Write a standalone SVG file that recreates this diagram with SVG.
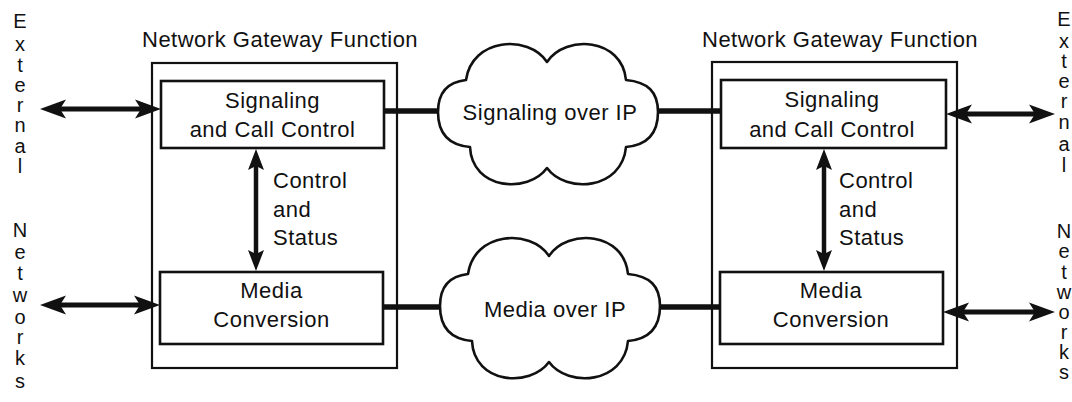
<svg xmlns="http://www.w3.org/2000/svg" width="1072" height="402" viewBox="0 0 1072 402">
  <style>
    text { font-family: "Liberation Sans", Arial, sans-serif; font-size: 22px; fill: #111; letter-spacing: 0.5px; }
    .mid { text-anchor: middle; }
    .vert { font-size: 20px; letter-spacing: 0; text-anchor: middle; }
    .outer { fill: none; stroke: #111; stroke-width: 2.2; }
    .inner { fill: #fff; stroke: #111; stroke-width: 2.6; }
    .cloud { fill: #fff; stroke: #111; stroke-width: 2.6; stroke-linejoin: round; }
    .link { stroke: #111; stroke-width: 5.5; fill: none; }
    .ext { stroke: #111; stroke-width: 5; fill: none; marker-start: url(#bigHead); marker-end: url(#bigHead); }
    .cs { stroke: #111; stroke-width: 4.5; fill: none; marker-start: url(#smallHead); marker-end: url(#smallHead); }
  </style>
  <defs>
    <marker id="bigHead" markerUnits="userSpaceOnUse" viewBox="-15 -11 30 22" markerWidth="30" markerHeight="22" refX="0" refY="0" orient="auto-start-reverse">
      <path d="M12,0 L-14,-9.5 L-8,0 L-14,9.5 Z" fill="#111"/>
    </marker>
    <marker id="smallHead" markerUnits="userSpaceOnUse" viewBox="-12 -9 24 18" markerWidth="24" markerHeight="18" refX="0" refY="0" orient="auto-start-reverse">
      <path d="M10,0 L-11,-8 L-7,0 L-11,8 Z" fill="#111"/>
    </marker>
    <path id="cloudShape" d="M438,112 C438,92 448,82 466,80 C472,38 528,34 547,62 C566,34 622,38 626,80 C648,82 658,92 658,112 C658,132 648,145 626,147 C622,190 566,194 547,168 C528,194 472,190 470,147 C448,145 438,132 438,112 Z"/>
  </defs>

  <g id="external-left">
    <text class="vert" x="20" y="28">E</text>
    <text class="vert" x="20" y="51">x</text>
    <text class="vert" x="20" y="72">t</text>
    <text class="vert" x="20" y="92">e</text>
    <text class="vert" x="20" y="112">r</text>
    <text class="vert" x="20" y="132">n</text>
    <text class="vert" x="20" y="153">a</text>
    <text class="vert" x="20" y="173">l</text>
    <text class="vert" x="20" y="237">N</text>
    <text class="vert" x="20" y="259">e</text>
    <text class="vert" x="20" y="280">t</text>
    <text class="vert" x="20" y="302">w</text>
    <text class="vert" x="20" y="324">o</text>
    <text class="vert" x="20" y="344">r</text>
    <text class="vert" x="20" y="365">k</text>
    <text class="vert" x="20" y="388">s</text>
  </g>

  <g id="external-right">
    <text class="vert" x="1064" y="26">E</text>
    <text class="vert" x="1064" y="48">x</text>
    <text class="vert" x="1064" y="68">t</text>
    <text class="vert" x="1064" y="88">e</text>
    <text class="vert" x="1064" y="108">r</text>
    <text class="vert" x="1064" y="129">n</text>
    <text class="vert" x="1064" y="151">a</text>
    <text class="vert" x="1064" y="172">l</text>
    <text class="vert" x="1064" y="238">N</text>
    <text class="vert" x="1064" y="258">e</text>
    <text class="vert" x="1064" y="279">t</text>
    <text class="vert" x="1064" y="299">w</text>
    <text class="vert" x="1064" y="319">o</text>
    <text class="vert" x="1064" y="339">r</text>
    <text class="vert" x="1064" y="359">k</text>
    <text class="vert" x="1064" y="379">s</text>
  </g>

  <g id="gateway-left">
    <text x="142" y="47">Network Gateway Function</text>
    <rect class="outer" x="152" y="63" width="245" height="305"/>
  </g>
  <g id="gateway-right">
    <text x="702" y="47">Network Gateway Function</text>
    <rect class="outer" x="712" y="62" width="245" height="306"/>
  </g>

  <g id="connectors">
    <line class="link" x1="384" y1="111" x2="439" y2="111"/>
    <line class="link" x1="657" y1="111" x2="721" y2="111"/>
    <line class="link" x1="383" y1="307" x2="441" y2="307"/>
    <line class="link" x1="659" y1="307" x2="720" y2="307"/>
    <line class="ext" x1="52" y1="109" x2="149" y2="109"/>
    <line class="ext" x1="52" y1="305" x2="148" y2="305"/>
    <line class="ext" x1="958" y1="114" x2="1043" y2="114"/>
    <line class="ext" x1="955" y1="312" x2="1043" y2="312"/>
    <line class="cs" x1="256" y1="159" x2="256" y2="261"/>
    <line class="cs" x1="824" y1="159" x2="824" y2="261"/>
  </g>

  <g id="signaling-left">
    <rect class="inner" x="161" y="81" width="223" height="67"/>
    <text class="mid" x="272.5" y="108">Signaling</text>
    <text class="mid" x="272.5" y="137">and Call Control</text>
  </g>
  <g id="media-left">
    <rect class="inner" x="160" y="272" width="223" height="72"/>
    <text class="mid" x="271.5" y="298">Media</text>
    <text class="mid" x="271.5" y="327">Conversion</text>
  </g>
  <g id="control-label-left">
    <text x="273" y="188">Control</text>
    <text x="273" y="217">and</text>
    <text x="273" y="245">Status</text>
  </g>

  <g id="signaling-cloud">
    <use href="#cloudShape" class="cloud"/>
    <text class="mid" x="550" y="120">Signaling over IP</text>
  </g>
  <g id="media-cloud">
    <use href="#cloudShape" class="cloud" transform="translate(2,194)"/>
    <text class="mid" x="555" y="317">Media over IP</text>
  </g>

  <g id="signaling-right">
    <rect class="inner" x="721" y="80" width="225" height="68"/>
    <text class="mid" x="832" y="107">Signaling</text>
    <text class="mid" x="832" y="137">and Call Control</text>
  </g>
  <g id="media-right">
    <rect class="inner" x="720" y="272" width="223" height="72"/>
    <text class="mid" x="831" y="298">Media</text>
    <text class="mid" x="831" y="327">Conversion</text>
  </g>
  <g id="control-label-right">
    <text x="839" y="188">Control</text>
    <text x="839" y="217">and</text>
    <text x="839" y="245">Status</text>
  </g>
</svg>
